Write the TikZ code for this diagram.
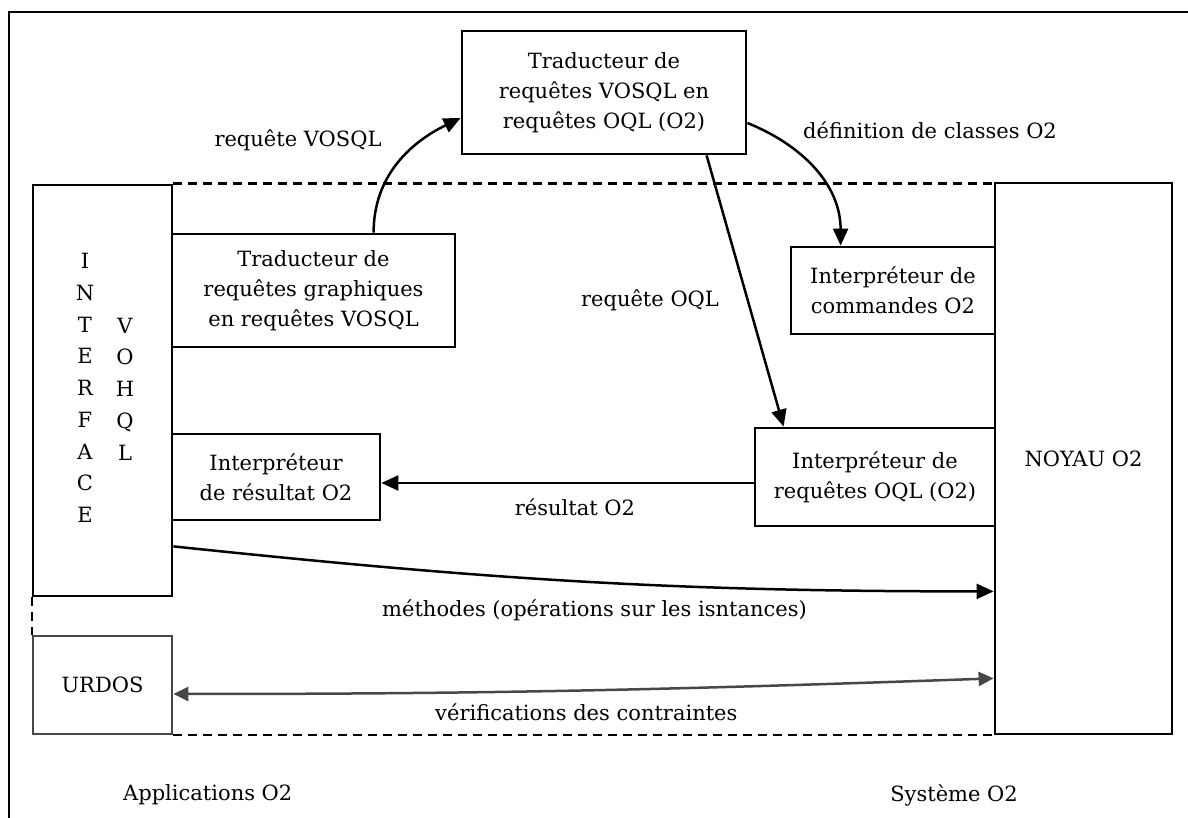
\documentclass[tikz,border=0pt]{standalone}
\usepackage{fontspec}
\setmainfont{DejaVu Serif}
\usetikzlibrary{arrows.meta,calc}
\definecolor{dgray}{HTML}{474747}
\begin{document}
\begin{tikzpicture}[x=1pt,y=1pt,
  box/.style={draw, line width=2.8pt, rectangle, inner sep=0pt, align=center, font=\fontsize{21}{30}\selectfont},
  lbl/.style={font=\fontsize{21}{30}\selectfont, inner sep=0pt},
  arr/.style={line width=2.5pt, -{Triangle[length=17pt,width=15pt]}},
  garr/.style={line width=2.5pt, draw=dgray, {Triangle[length=15pt,width=14pt]}-{Triangle[length=15pt,width=14pt]}},
  sepline/.style={line width=2.2pt, dash pattern=on 9pt off 6pt}
]
\useasboundingbox (0,0) rectangle (1188,818);
% outer frame
\draw[line width=2.8pt] (9,0) -- (9,806) -- (1188,806);
% boxes
\node[box, minimum width=284pt, minimum height=123pt] (top) at (604,725.5) {Traducteur de\\requêtes VOSQL en\\requêtes OQL (O2)};
\node[box, minimum width=283pt, minimum height=113pt] (graph) at (313.5,527.5) {Traducteur de\\requêtes graphiques\\en requêtes VOSQL};
\node[box, minimum width=204pt, minimum height=87pt] (cmd) at (893,527.5) {Interpréteur de\\commandes O2};
\node[box, minimum width=208pt, minimum height=86pt] (res) at (276,341) {Interpréteur\\de résultat O2};
\node[box, minimum width=240pt, minimum height=98pt] (oql) at (875,341) {Interpréteur de\\requêtes OQL (O2)};
\node[box, minimum width=139pt, minimum height=411pt] (interface) at (102.5,427.5) {};
\node[box, draw=dgray, minimum width=139pt, minimum height=98pt] (urdos) at (102.5,133) {URDOS};
\node[box, minimum width=177pt, minimum height=551pt] (noyau) at (1083.5,359.5) {NOYAU O2};
% interface letters
\node[lbl, align=center, font=\fontsize{21}{31.75}\selectfont] (lint) at (85,430) {I\\N\\T\\E\\R\\F\\A\\C\\E};
\node[lbl, align=center, font=\fontsize{21}{31.75}\selectfont] (lvohql) at (125,429) {V\\O\\H\\Q\\L};
% dashed separators
\draw[sepline] (interface.north east) -- (interface.north east -| noyau.west);
\draw[sepline] (urdos.south east) -- (urdos.south east -| noyau.west);
\draw[sepline] (interface.south west) -- (urdos.north west);
% connectors
\draw[arr] ([xshift=203pt]graph.north west) to[out=90,in=206] ([yshift=-25.5pt]top.west);
\draw[arr] ([yshift=-30.5pt]top.east) to[out=-22,in=90] ([xshift=51pt]cmd.north west);
\draw[arr] ([xshift=246pt]top.south west) -- ([xshift=30pt]oql.north west);
\coordinate (r1) at ([yshift=-6pt]oql.west);
\draw[arr] (r1) -- (r1 -| res.east);
\draw[arr] ([yshift=51pt]interface.south east) to[out=-6,in=180] ([yshift=144pt]noyau.south west);
\draw[garr] ([yshift=-9pt]urdos.east) to[out=0,in=182] ([yshift=57pt]noyau.south west);
% labels
\node[lbl] (lvosql) at (298,678) {requête VOSQL};
\node[lbl] (ldef) at (930,688) {définition de classes O2};
\node[lbl] (loql) at (650,518) {requête OQL};
\node[lbl] (lres) at (575,311) {résultat O2};
\node[lbl, anchor=west] (lmeth) at (382,208) {méthodes (opérations sur les isntances)};
\node[lbl, anchor=west] (lverif) at (435,106) {vérifications des contraintes};
\node[lbl, anchor=west] (lapp) at (123,23) {Applications O2};
\node[lbl, anchor=east] (lsys) at (1018,23) {Système O2};
\end{tikzpicture}
\end{document}
